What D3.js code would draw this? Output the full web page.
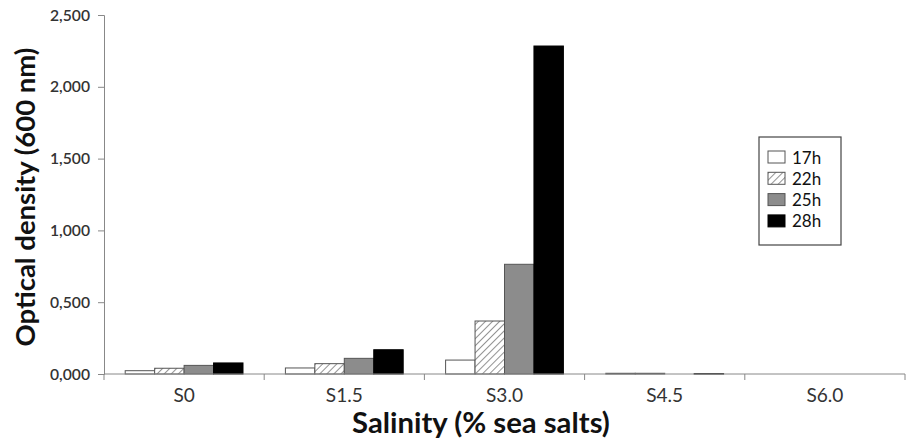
<!DOCTYPE html>
<html><head><meta charset="utf-8">
<script src="https://cdn.jsdelivr.net/npm/d3@7/dist/d3.min.js"></script>
<style>body{margin:0;background:#fff}svg{display:block}</style>
</head><body><svg id="c" width="907" height="442"></svg>
<script>
const categories = ["S0","S1.5","S3.0","S4.5","S6.0"];
const seriesNames = ["17h","22h","25h","28h"];
const v17h = [23, 42, 97, 5, 0];
const v22h = [40, 72, 369, 5, 0];
const v25h = [60, 109, 764, 0, 0];
const v28h = [77, 169, 2284, 2, 0];
const yTicks = [0, 500, 1000, 1500, 2000, 2500];

const seriesValues = [v17h, v22h, v25h, v28h];
const fills = ["#ffffff", "url(#hatch)", "#8c8c8c", "#000000"];
const FONT = "Lato, sans-serif";
const svg = d3.select("#c");
const defs = svg.append("defs");
const pat = defs.append("pattern").attr("id","hatch").attr("patternUnits","userSpaceOnUse")
  .attr("width",5).attr("height",5).attr("patternTransform","rotate(45)");
pat.append("rect").attr("width",5).attr("height",5).attr("fill","#fff");
pat.append("line").attr("x1",0).attr("y1",0).attr("x2",0).attr("y2",5).attr("stroke","#777").attr("stroke-width",1.6);

// fit a text's font size to a target width measured on the reference
function fit(sel, target, maxSize){
  sel.attr("font-size", 20);
  const w = sel.node().getComputedTextLength();
  let s = 20 * target / w;
  if (maxSize) s = Math.min(s, maxSize);
  sel.attr("font-size", s);
  return s;
}

const L=104, R=905, T=15, B=374;
const x = d3.scaleBand().domain(categories).range([L,R]);
const xs = d3.scaleBand().domain(seriesNames).range([0, x.bandwidth()]).paddingOuter(0.72).paddingInner(0);
const y = d3.scaleLinear().domain([0,2500]).range([B,T]);
const loc = d3.formatLocale({decimal:",", thousands:".", grouping:[3], currency:["",""]});
const fmt = v => loc.format(".3f")(v/1000);

// bars
seriesNames.forEach((s,i)=>{
  svg.append("g").selectAll("rect").data(categories).join("rect")
    .attr("x", c=>x(c)+xs(s)).attr("width", xs.bandwidth())
    .attr("y", (c,j)=>y(seriesValues[i][j])).attr("height",(c,j)=>B-y(seriesValues[i][j]))
    .attr("fill", fills[i]).attr("stroke", i===3?"#000":"#555").attr("stroke-width",1);
});

// y axis
const ya = svg.append("g").attr("transform",`translate(${L},0)`)
  .call(d3.axisLeft(y).tickValues(yTicks).tickSize(6).tickFormat(fmt));
ya.select(".domain").attr("stroke","#888");
ya.selectAll(".tick line").attr("stroke","#888");
ya.selectAll("text").attr("font-family",FONT).attr("font-weight",600)
  .attr("fill","#333").attr("x",-14);
const tickSize = fit(ya.select(".tick:last-of-type text"), 40);
ya.selectAll("text").attr("font-size", tickSize);

// x axis
const xa = svg.append("g").attr("transform",`translate(0,${B})`);
xa.append("line").attr("x1",L).attr("x2",R).attr("stroke","#888");
xa.selectAll("line.t").data(categories.concat(["end"])).join("line").attr("class","t")
  .attr("x1",(c,i)=>i<categories.length?x(c):R).attr("x2",(c,i)=>i<categories.length?x(c):R)
  .attr("y1",0).attr("y2",6).attr("stroke","#888");
const cl = xa.selectAll("text").data(categories).join("text")
  .attr("x",c=>x(c)+x.bandwidth()/2).attr("y",28).attr("text-anchor","middle")
  .attr("font-family",FONT).attr("fill","#333").text(c=>c);
const catSize = fit(cl.filter((d,i)=>i===1), 37);
cl.attr("font-size", catSize);

// titles
const xt = svg.append("text").attr("x",481).attr("y",433).attr("text-anchor","middle")
  .attr("font-family",FONT).attr("font-weight","bold").attr("fill","#111")
  .text("Salinity (% sea salts)");
fit(xt, 258);
const yt = svg.append("text").attr("transform","translate(35,197) rotate(-90)").attr("text-anchor","middle")
  .attr("font-family",FONT).attr("font-weight","bold").attr("fill","#111")
  .text("Optical density (600 nm)");
fit(yt, 299);

// legend
const lg = svg.append("g");
lg.append("rect").attr("x",759).attr("y",137).attr("width",82).attr("height",108).attr("fill","#fff").attr("stroke","#444").attr("stroke-width",1.2);
seriesNames.forEach((s,i)=>{
  const yy = 151 + i*21.3;
  lg.append("rect").attr("x",768).attr("y",yy).attr("width",17).attr("height",12)
    .attr("fill",fills[i]).attr("stroke",i===3?"#000":"#555");
  const t = lg.append("text").attr("x",792).attr("y",yy+12.5).attr("font-family",FONT)
    .attr("fill","#111").text(s);
  fit(t, 33, 17);
});
</script></body></html>
